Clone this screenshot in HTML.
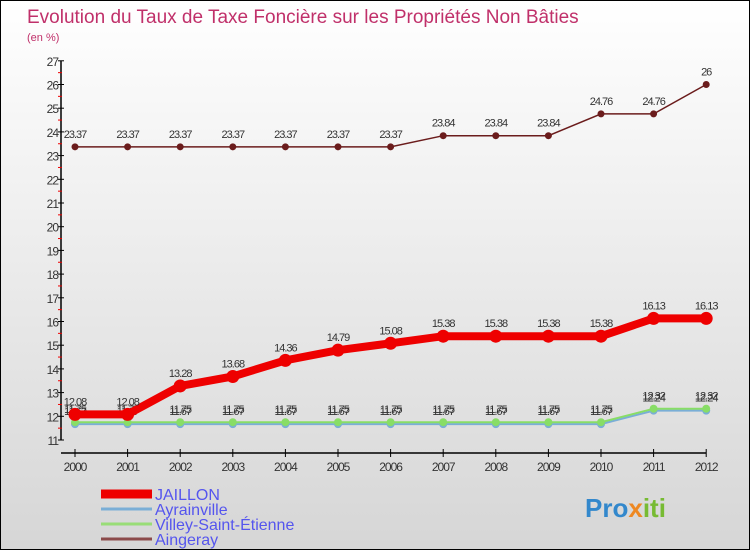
<!DOCTYPE html>
<html><head><meta charset="utf-8"><style>
body{margin:0}
#c{width:748px;height:548px;border:1px solid #000;background:linear-gradient(#fff,#d6d6d6);position:relative;font-family:"Liberation Sans",sans-serif;overflow:hidden}
</style></head><body>
<div id="c">
<svg id="s" width="748" height="548" font-family="Liberation Sans, sans-serif"></svg>
</div>
<script>
const years=[2000,2001,2002,2003,2004,2005,2006,2007,2008,2009,2010,2011,2012];
const jaillon=[12.08,12.08,13.28,13.68,14.36,14.79,15.08,15.38,15.38,15.38,15.38,16.13,16.13];
const ayrainville=[11.67,11.67,11.67,11.67,11.67,11.67,11.67,11.67,11.67,11.67,11.67,12.24,12.24];
const villey=[11.75,11.75,11.75,11.75,11.75,11.75,11.75,11.75,11.75,11.75,11.75,12.32,12.32];
const aingeray=[23.37,23.37,23.37,23.37,23.37,23.37,23.37,23.84,23.84,23.84,24.76,24.76,26];
const yTicks=[11,12,13,14,15,16,17,18,19,20,21,22,23,24,25,26,27];
const NS='http://www.w3.org/2000/svg',s=document.getElementById('s');
const X=i=>74+i*52.6, Y=v=>439-(v-11)*23.7;
function el(t,a,txt){const e=document.createElementNS(NS,t);for(const k in a)e.setAttribute(k,a[k]);if(txt!=null)e.textContent=txt;s.appendChild(e);return e;}
let e;
e=el('text',{x:26,y:22,'font-size':19,fill:'#c0306a'},'Evolution du Taux de Taxe Foncière sur les Propriétés Non Bâties');

e=el('text',{x:26,y:40,'font-size':11,fill:'#c0306a'},'(en %)');

el('line',{x1:60,y1:Y(27),x2:60,y2:Y(11),stroke:'#000','stroke-width':1.5});
el('line',{x1:60,y1:452,x2:X(12),y2:452,stroke:'#000','stroke-width':1.5});
yTicks.forEach(v=>{el('line',{x1:57,y1:Y(v),x2:63,y2:Y(v),stroke:'#000'});
 if(v<27)el('line',{x1:57,y1:Y(v+0.5),x2:61,y2:Y(v+0.5),stroke:'#e00'});
 e=el('text',{x:57,y:Y(v)+5,'font-size':12,fill:'#333','text-anchor':'end','letter-spacing':'-1'},v);
 });
years.forEach((y,i)=>{el('line',{x1:X(i),y1:448,x2:X(i),y2:456,stroke:'#000'});
 e=el('text',{x:X(i),y:470,'font-size':12,fill:'#333','text-anchor':'middle','letter-spacing':'-1'},y);
 });
function series(d,col,w,r,name,lab){
 e=el('polyline',{points:d.map((v,i)=>X(i)+','+Y(v)).join(' '),fill:'none',stroke:col,'stroke-width':w});
 
 d.forEach((v,i)=>{e=el('circle',{cx:X(i),cy:Y(v),r:r,fill:col});
  
  if(lab){e=el('text',{x:X(i),y:Y(v)-9,'font-size':11,fill:'#333','text-anchor':'middle','letter-spacing':'-1'},v);
  }});
}
series(aingeray,'#6b1c1c',1.5,3.5,'aingeray',true);
series(ayrainville,'#7aaed6',2,4,'ayrainville',true);
series(villey,'#88dd66',2,4,'villey',true);
series(jaillon,'#ee0000',8,6.5,'jaillon',true);
const leg=[['JAILLON','#ee0000',9],['Ayrainville','#7aaed6',3],['Villey-Saint-Étienne','#99dd77',3],['Aingeray','#8b4a4a',3]];
leg.forEach((l,i)=>{const y=493+i*15;
 e=el('line',{x1:100,y1:y,x2:151,y2:y,stroke:l[1],'stroke-width':l[2]});
 
 e=el('text',{x:154,y:y+6,'font-size':16,fill:'#5555ee'},l[0]);
 });
e=el('text',{x:584,y:516,'font-size':26,'font-weight':'bold',fill:'#3388cc'});

e.innerHTML='<tspan>Pro</tspan><tspan fill="#ee8822">x</tspan><tspan fill="#77bb33">iti</tspan>';
</script>
</body></html>
